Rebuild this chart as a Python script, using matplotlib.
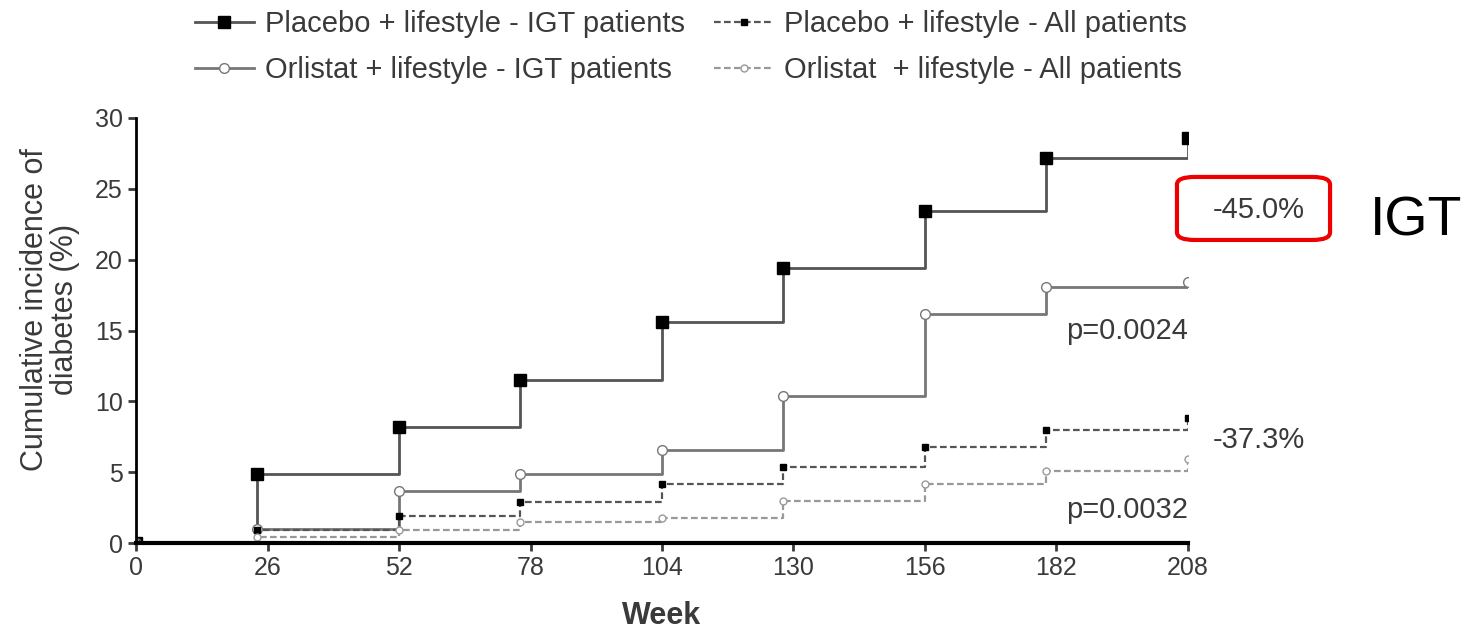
import matplotlib.pyplot as plt
from matplotlib.patches import FancyBboxPatch

weeks = [0, 24, 52, 76, 104, 128, 156, 180, 208]
placebo_igt = [0, 4.9, 8.2, 11.5, 15.6, 19.4, 23.4, 27.2, 28.6]
orlistat_igt = [0, 1.0, 3.7, 4.9, 6.6, 10.4, 16.2, 18.1, 18.4]
placebo_all = [0, 0.9, 1.9, 2.9, 4.2, 5.4, 6.8, 8.0, 8.8]
orlistat_all = [0, 0.4, 0.9, 1.5, 1.8, 3.0, 4.2, 5.1, 5.9]

xticks = [0, 26, 52, 78, 104, 130, 156, 182, 208]
yticks = [0, 5, 10, 15, 20, 25, 30]

plt.rcParams['font.family'] = ['Liberation Sans', 'DejaVu Sans']
txt = '#3a3a3a'

fig = plt.figure(figsize=(14.69, 6.34), dpi=100)
ax = fig.add_axes([0.0926, 0.1435, 0.7161, 0.6704])

l1, = ax.step(weeks, placebo_igt, where='post', color='#555555', lw=2,
              marker='s', ms=8, mfc='black', mec='black',
              label='Placebo + lifestyle - IGT patients')
l2, = ax.step(weeks, orlistat_igt, where='post', color='#777777', lw=2,
              marker='o', ms=7, mfc='white', mec='#777777',
              label='Orlistat + lifestyle - IGT patients')
l3, = ax.step(weeks, placebo_all, where='post', color='#555555', lw=1.6,
              ls=(0, (3, 1.5)), marker='s', ms=5, mfc='black', mec='black',
              label='Placebo + lifestyle - All patients')
l4, = ax.step(weeks, orlistat_all, where='post', color='#999999', lw=1.6,
              ls=(0, (3, 1.5)), marker='o', ms=5, mfc='white', mec='#999999',
              label='Orlistat  + lifestyle - All patients')

ax.set_xlim(0, 208)
ax.set_ylim(0, 30)
ax.set_xticks(xticks)
ax.set_yticks(yticks)
ax.tick_params(labelsize=18, colors=txt, width=2, length=6)
for s in ['top', 'right']:
    ax.spines[s].set_visible(False)
ax.spines['bottom'].set_linewidth(3)
ax.spines['left'].set_linewidth(2)

ax.set_xlabel('Week', fontsize=22, fontweight='bold', color=txt, labelpad=15)
ax.set_ylabel('Cumulative incidence of\ndiabetes (%)', fontsize=22, color=txt,
              linespacing=1.0)
ax.yaxis.set_label_coords(-0.053, 0.55)

fig.legend(handles=[l1, l2, l3, l4], ncol=2, loc='upper left',
           bbox_to_anchor=(0.115, 1.025), frameon=False, fontsize=21,
           labelcolor=txt, handlelength=2.0, handletextpad=0.4,
           columnspacing=1.0, labelspacing=0.6)

ax.text(208, 15.0, 'p=0.0024', ha='right', va='center', fontsize=21, color=txt)
ax.text(208, 2.3, 'p=0.0032', ha='right', va='center', fontsize=21, color=txt)
ax.text(222, 7.3, '-37.3%', ha='center', va='center', fontsize=21,
        color=txt, clip_on=False)
ax.text(222, 23.5, '-45.0%', ha='center', va='center', fontsize=21,
        color=txt, clip_on=False)

box = FancyBboxPatch((0.8012, 0.6215), 0.1042, 0.0994,
                     boxstyle='round,pad=0,rounding_size=0.012',
                     transform=fig.transFigure, fill=False,
                     edgecolor='#ee0000', lw=3)
fig.patches.append(box)
fig.text(0.964, 0.650, 'IGT', fontsize=40, color='black', ha='center',
         va='center')

fig.savefig('out.png', dpi=100)
